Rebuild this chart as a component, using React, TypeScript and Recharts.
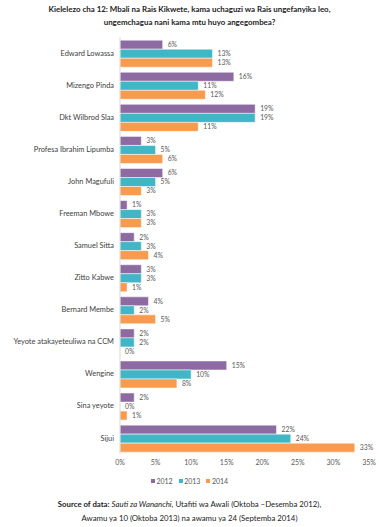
import { BarChart, Bar, XAxis, YAxis, LabelList } from 'recharts';

const categories = [
  'Edward Lowassa',
  'Mizengo Pinda',
  'Dkt Wilbrod Slaa',
  'Profesa Ibrahim Lipumba',
  'John Magufuli',
  'Freeman Mbowe',
  'Samuel Sitta',
  'Zitto Kabwe',
  'Bernard Membe',
  'Yeyote atakayeteuliwa na CCM',
  'Wengine',
  'Sina yeyote',
  'Sijui',
];
const values2012 = [6, 16, 19, 3, 6, 1, 2, 3, 4, 2, 15, 2, 22];
const values2013 = [13, 11, 19, 5, 5, 3, 3, 3, 2, 2, 10, 0, 24];
const values2014 = [13, 12, 11, 6, 3, 3, 4, 1, 5, 0, 8, 1, 33];
const xTicks = [0, 5, 10, 15, 20, 25, 30, 35];

const series = [
  { key: 'y2012', name: '2012', color: '#8E6AA2' },
  { key: 'y2013', name: '2013', color: '#3FB7C6' },
  { key: 'y2014', name: '2014', color: '#F99B4E' },
];

const data = categories.map((name, i) => ({
  name,
  y2012: values2012[i],
  y2013: values2013[i],
  y2014: values2014[i],
}));

const font = 'Lato, "Open Sans", sans-serif';

// plain one-line category label (recharts would wrap it)
const CategoryTick = ({ x, y, payload }: any) => (
  <text x={x} y={y} dy={2.6} textAnchor="end" fontSize={7.4} fill="#404040" fontFamily={font}>
    {payload.value}
  </text>
);

// value label, drawn also for 0% bars
const ValueLabel = ({ x, y, width, height, value }: any) => (
  <text
    x={Number(x) + Number(width || 0) + 5}
    y={Number(y) + Number(height) / 2}
    dy={2.4}
    fontSize={6.8}
    fill="#595959"
    fontFamily={font}
  >
    {`${value}%`}
  </text>
);

export default function App() {
  return (
    <div style={{ position: 'absolute', left: 0, top: 0, width: 379, height: 527, background: '#fff', fontFamily: font }}>
      <div style={{ position: 'absolute', top: 3, left: 0, width: 379, textAlign: 'center', fontWeight: 700, fontSize: 7.9, lineHeight: '12.5px', color: '#222' }}>
        Kielelezo cha 12: Mbali na Rais Kikwete, kama uchaguzi wa Rais ungefanyika leo,
        <br />
        ungemchagua nani kama mtu huyo angegombea?
      </div>
      <div style={{ position: 'absolute', top: 0, left: 0 }}>
        <BarChart
          width={379}
          height={474}
          data={data}
          layout="vertical"
          margin={{ top: 37, right: 10, bottom: 0, left: 4 }}
          barGap={0}
          barCategoryGap="10%"
        >
          <XAxis
            type="number"
            domain={[0, 35]}
            ticks={xTicks}
            tickFormatter={(v: number) => `${v}%`}
            axisLine={false}
            tickLine={false}
            tickSize={4}
            height={20}
            tick={{ fontSize: 7, fill: '#595959', fontFamily: font }}
          />
          <YAxis
            type="category"
            dataKey="name"
            width={116}
            tickLine={false}
            tickSize={4}
            axisLine={{ stroke: '#d9d9d9' }}
            tick={<CategoryTick />}
          />
          {series.map((s) => (
            <Bar
              key={s.key}
              dataKey={s.key}
              name={s.name}
              fill={s.color}
              stroke="#fff"
              strokeWidth={0.5}
              minPointSize={0.05}
              isAnimationActive={false}
            >
              <LabelList dataKey={s.key} content={<ValueLabel />} />
            </Bar>
          ))}
        </BarChart>
      </div>
      <div style={{ position: 'absolute', top: 477, left: 0, width: 379, display: 'flex', justifyContent: 'center', gap: 6, fontSize: 7, color: '#595959' }}>
        {series.map((s) => (
          <span key={s.key} style={{ display: 'flex', alignItems: 'center', gap: 1.5 }}>
            <span style={{ width: 4, height: 4, background: s.color, display: 'inline-block' }} />
            {s.name}
          </span>
        ))}
      </div>
      <div style={{ position: 'absolute', top: 498, left: 0, width: 379, textAlign: 'center', fontSize: 7.8, lineHeight: '13.5px', color: '#222' }}>
        <b>Source of data:</b> <i>Sauti za Wananchi</i>, Utafiti wa Awali (Oktoba –Desemba 2012),
        <br />
        Awamu ya 10 (Oktoba 2013) na awamu ya 24 (Septemba 2014)
      </div>
    </div>
  );
}
